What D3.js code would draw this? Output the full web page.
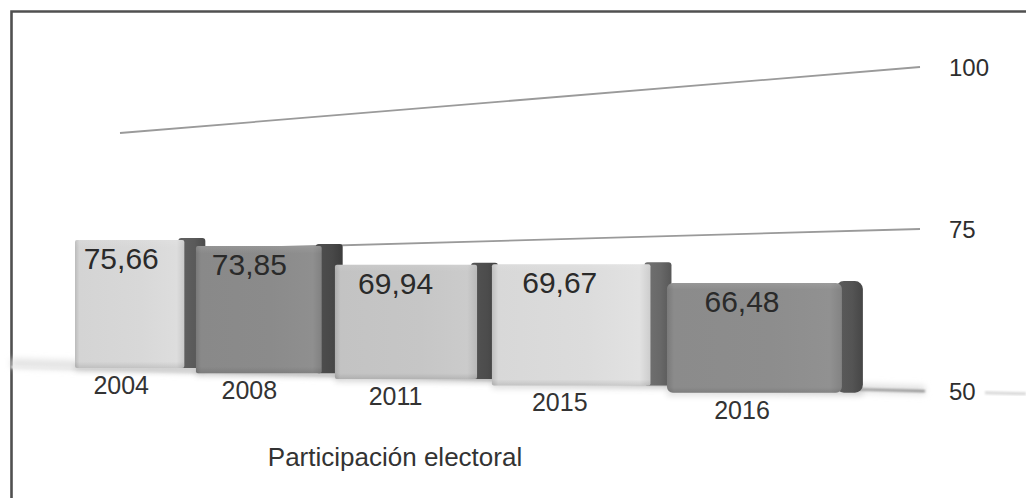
<!DOCTYPE html>
<html><head><meta charset="utf-8">
<script src="https://cdn.jsdelivr.net/npm/d3@7"></script>
<style>html,body{margin:0;padding:0;background:#fff}svg{display:block}</style>
</head><body>
<svg id="chart" width="1026" height="498"></svg>
<script>
// Electoral turnout by election year
const years = ["2004", "2008", "2011", "2015", "2016"];
const participation = [75.66, 73.85, 69.94, 69.67, 66.48];
const gridTicks = [50, 75, 100];
const title = "Participación electoral";

// greys for the front and side faces of each block
const faceFill = ["#d8d8d8", "#8b8b8b", "#c6c6c6", "#dcdcdc", "#8d8d8d"];
const sideFill = ["#5a5a5a", "#484848", "#4c4c4c", "#686868", "#545454"];

const svg = d3.select("#chart");
const defs = svg.append("defs");
const fmt = v => d3.format(".2f")(v).replace(".", ",");

// perspective along the row: slots widen towards the right
const slot = d3.scaleLinear().domain([0, years.length]).range([0, 1]);
const xStart = 75, xSpan = 785, lin = 0.713;
const px = u => { const g = slot(u); return xStart + xSpan * (lin * g + (1 - lin) * g * g); };
const faceShare = 0.91, sideDepth = 21;

// value scales of the block row, interpolated across the row
const barYA = d3.scaleLinear().domain([50, 100]).range([368, 118.5]);
const barYB = d3.scaleLinear().domain([50, 100]).range([393, 59.5]);
const barT = d3.scaleLinear().domain([128, 763]).range([0, 1]);
const barY = (v, x) => d3.interpolateNumber(barYA(v), barYB(v))(barT(x));

// value scales of the reference lines behind the blocks
const gridYA = d3.scaleLinear().domain([50, 100]).range([370, 133]);
const gridYB = d3.scaleLinear().domain([50, 100]).range([391, 67]);
const gridT = d3.scaleLinear().domain([120, 920]).range([0, 1]);
const gridY = (v, x) => d3.interpolateNumber(gridYA(v), gridYB(v))(gridT(x));

// filters
defs.append("filter").attr("id", "soft").attr("x", "-10%").attr("y", "-200%").attr("width", "120%").attr("height", "500%")
  .append("feGaussianBlur").attr("stdDeviation", 3);
defs.append("filter").attr("id", "softer").attr("x", "-10%").attr("y", "-200%").attr("width", "120%").attr("height", "500%")
  .append("feGaussianBlur").attr("stdDeviation", 1.2);

// frame
svg.append("path")
  .attr("d", "M11.5,498 V11.5 H1026")
  .attr("fill", "none").attr("stroke", "#505050").attr("stroke-width", 2.6);

const line = d3.line();

// floor (50) with a soft shade
const floorGrad = defs.append("linearGradient").attr("id", "floorGrad")
  .attr("gradientUnits", "userSpaceOnUse").attr("x1", 11).attr("x2", 925).attr("y1", 0).attr("y2", 0);
floorGrad.append("stop").attr("offset", 0).attr("stop-color", "#ececec");
floorGrad.append("stop").attr("offset", 0.5).attr("stop-color", "#cfcfcf");
floorGrad.append("stop").attr("offset", 1).attr("stop-color", "#8a8a8a");

svg.append("path")
  .attr("d", line([[11, gridY(50, 11) - 4], [925, gridY(50, 925) - 1]]))
  .attr("stroke", "#e2e2e2").attr("stroke-width", 9).attr("filter", "url(#soft)").attr("fill", "none");
svg.append("path")
  .attr("d", line([[11, gridY(50, 11)], [925, gridY(50, 925)]]))
  .attr("stroke", "url(#floorGrad)").attr("stroke-width", 2.2).attr("filter", "url(#softer)").attr("fill", "none");
svg.append("path")
  .attr("d", line([[985, gridY(50, 985)], [1026, gridY(50, 1026)]]))
  .attr("stroke", "#d8d8d8").attr("stroke-width", 3).attr("filter", "url(#softer)").attr("fill", "none");

// reference lines 75 and 100
svg.append("g").selectAll("path")
  .data(gridTicks.filter(v => v > 50))
  .join("path")
  .attr("d", v => line([[120, gridY(v, 120)], [920, gridY(v, 920)]]))
  .attr("fill", "none").attr("stroke", "#9a9a9a").attr("stroke-width", 1.8);

// reference labels
svg.append("g").selectAll("text")
  .data(gridTicks)
  .join("text")
  .attr("x", 949)
  .attr("y", v => gridY(v, 920) + 8.5)
  .attr("font-family", "'Liberation Sans', Arial, sans-serif")
  .attr("font-size", 24).attr("fill", "#2e2e2e")
  .text(v => v);

// blocks
const bars = years.map((y, i) => {
  const x0 = px(i), x1 = px(i + faceShare);
  const xc = (x0 + x1) / 2;
  return { year: y, value: participation[i], i, x0, x1,
           top: barY(participation[i], xc), bottom: barY(50, xc), lx: px(i + 0.4) };
});

bars.forEach(b => {
  const base = d3.color(faceFill[b.i]);
  const fg = defs.append("linearGradient").attr("id", "face" + b.i);
  fg.append("stop").attr("offset", 0).attr("stop-color", base.darker(0.4));
  fg.append("stop").attr("offset", 0.04).attr("stop-color", base.darker(0.05));
  fg.append("stop").attr("offset", 0.6).attr("stop-color", base);
  fg.append("stop").attr("offset", 0.93).attr("stop-color", base.brighter(0.07));
  fg.append("stop").attr("offset", 1).attr("stop-color", base.darker(0.2));
  const vg = defs.append("linearGradient").attr("id", "faceV" + b.i).attr("x1", 0).attr("x2", 0).attr("y1", 0).attr("y2", 1);
  vg.append("stop").attr("offset", 0).attr("stop-color", "#fff").attr("stop-opacity", 0.1);
  vg.append("stop").attr("offset", 0.06).attr("stop-color", "#fff").attr("stop-opacity", 0);
  vg.append("stop").attr("offset", 0.95).attr("stop-color", "#000").attr("stop-opacity", 0);
  vg.append("stop").attr("offset", 1).attr("stop-color", "#000").attr("stop-opacity", 0.1);
  const side = d3.color(sideFill[b.i]);
  const sg = defs.append("linearGradient").attr("id", "side" + b.i);
  sg.append("stop").attr("offset", 0).attr("stop-color", side.brighter(0.25));
  sg.append("stop").attr("offset", 0.6).attr("stop-color", side);
  sg.append("stop").attr("offset", 1).attr("stop-color", side.darker(0.5));
});

const gBars = svg.append("g");
bars.forEach(b => {
  const g = gBars.append("g");
  const last = b.i === years.length - 1;
  // contact shadow
  g.append("rect")
    .attr("x", b.x0).attr("y", b.bottom - 3)
    .attr("width", b.x1 + sideDepth - b.x0).attr("height", 6)
    .attr("fill", "#000").attr("opacity", 0.14).attr("filter", "url(#soft)");
  // side face
  g.append("rect")
    .attr("x", b.x1 - 6).attr("y", b.top - 2)
    .attr("width", sideDepth + 6).attr("height", b.bottom - b.top + 2)
    .attr("rx", last ? 8 : 3)
    .attr("fill", `url(#side${b.i})`);
  // front face
  g.append("rect")
    .attr("x", b.x0).attr("y", b.top)
    .attr("width", b.x1 - b.x0).attr("height", b.bottom - b.top)
    .attr("rx", last ? 6 : 2)
    .attr("fill", `url(#face${b.i})`);
  g.append("rect")
    .attr("x", b.x0).attr("y", b.top)
    .attr("width", b.x1 - b.x0).attr("height", b.bottom - b.top)
    .attr("rx", last ? 6 : 2)
    .attr("fill", `url(#faceV${b.i})`);
});

// value labels
svg.append("g").selectAll("text")
  .data(bars)
  .join("text")
  .attr("x", d => d.lx)
  .attr("y", d => d.top + 29)
  .attr("text-anchor", "middle")
  .attr("font-family", "'Liberation Sans', Arial, sans-serif")
  .attr("font-size", 30).attr("fill", "#2a2a2a")
  .text(d => fmt(d.value));

// year labels
svg.append("g").selectAll("text")
  .data(bars)
  .join("text")
  .attr("x", d => d.lx)
  .attr("y", d => d.bottom + 26)
  .attr("text-anchor", "middle")
  .attr("font-family", "'Liberation Sans', Arial, sans-serif")
  .attr("font-size", 25).attr("fill", "#333")
  .text(d => d.year);

// caption
svg.append("text")
  .attr("x", 395).attr("y", 466)
  .attr("text-anchor", "middle")
  .attr("font-family", "'Liberation Sans', Arial, sans-serif")
  .attr("font-size", 26).attr("fill", "#333")
  .text(title);
</script>
</body></html>
